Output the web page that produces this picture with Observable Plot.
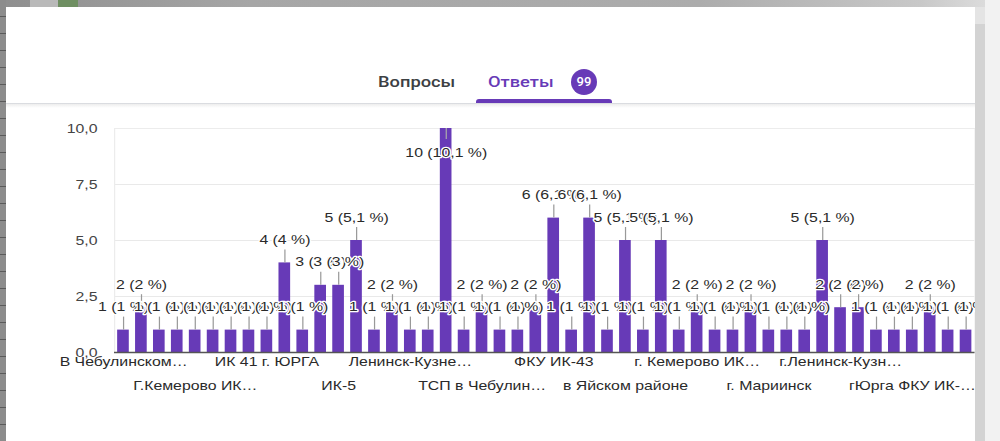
<!DOCTYPE html>
<html>
<head>
<meta charset="utf-8">
<script src="https://cdn.jsdelivr.net/npm/d3@7"></script>
<script src="https://cdn.jsdelivr.net/npm/@observablehq/plot@0.6"></script>
<style>
  html, body { margin: 0; padding: 0; width: 1000px; height: 441px; overflow: hidden; background: #fff; }
  body { position: relative; font-family: "Liberation Sans", Arial, sans-serif; }
  #topstrip { position: absolute; left: 0; top: 0; width: 1000px; height: 7px; z-index: 5;
    background: linear-gradient(to right, #8e8e8e 0%, #a6a6a6 25%, #acacac 70%, #c8c8c8 92%, #e0e0e0 100%); }
  #topbox1 { position: absolute; left: 30px; top: 0; width: 28px; height: 7px; background: #b9b9b9; z-index: 6; }
  #topbox2 { position: absolute; left: 58px; top: 0; width: 20px; height: 7px; background: #6f8f62; z-index: 6; }
  #leftstrip { position: absolute; left: 0; top: 0; width: 6px; height: 441px; z-index: 5;
    background: repeating-linear-gradient(to bottom, #8c8c8c 0px, #8c8c8c 16px, #5a5a5a 16px, #5a5a5a 17px); }
  #rightbar { position: absolute; left: 975px; top: 7px; width: 10px; height: 434px; background: #d3d3d3; z-index: 5; }
  #rightbarTop { position: absolute; left: 975px; top: 7px; width: 10px; height: 17px; background: #e4e4e4; z-index: 6; }
  #rightfar { position: absolute; left: 985px; top: 0; width: 15px; height: 441px; background: #f2f2f2; z-index: 5; }
  #divider { position: absolute; left: 6px; top: 103px; width: 969px; height: 1px; background: #dadce0; }
  #shadow { position: absolute; left: 6px; top: 104px; width: 969px; height: 4px;
    background: linear-gradient(to bottom, rgba(0,0,0,0.07), rgba(0,0,0,0)); }
  .tab { position: absolute; top: 72px; height: 20px; line-height: 20px; font-family: Roboto, "Noto Sans", sans-serif;
    font-weight: 500; font-size: 15px; white-space: nowrap; transform-origin: 0 50%; transform: scaleX(1.22); }
  #tabQ { left: 378px; color: #3c4043; }
  #tabA { left: 488px; color: #673ab7; }
  #badge { position: absolute; left: 571px; top: 69px; width: 26px; height: 26px; border-radius: 50%;
    background: #673ab7; color: #fff; font-family: Roboto, sans-serif; font-weight: 500; font-size: 13px;
    line-height: 26px; text-align: center; }
  #underline { position: absolute; left: 476px; top: 99px; width: 136px; height: 4px; background: #673ab7;
    border-radius: 3px 3px 0 0; }
  #chart { position: absolute; left: 0; top: 110px; transform-origin: 0 0; z-index: 1; }
</style>
</head>
<body>
<div id="topstrip"></div><div id="topbox1"></div><div id="topbox2"></div>
<div id="leftstrip"></div>
<div id="rightbar"></div><div id="rightbarTop"></div><div id="rightfar"></div>
<div id="tabQ" class="tab">Вопросы</div>
<div id="tabA" class="tab">Ответы</div>
<div id="badge"></div>
<div id="underline"></div>
<div id="divider"></div><div id="shadow"></div>
<div id="chart"></div>
<script>
// ---- data ----
const values = [1, 2, 1, 1, 1, 1, 1, 1, 1, 4, 1, 3, 3, 5, 1, 2,
                1, 1, 10, 1, 2, 1, 1, 2, 6, 1, 6, 1, 5, 1, 5, 1,
                2, 1, 1, 2, 1, 1, 1, 5, 2, 2, 1, 1, 1, 2, 1, 1];
const tickLabels = ["В Чебулинском…", "Г.Кемерово ИК…", "ИК 41 г. ЮРГА", "ИК-5",
                    "Ленинск-Кузне…", "ТСП в Чебулин…", "ФКУ ИК-43", "в Яйском районе",
                    "г. Кемерово ИК…", "г. Мариинск", "г.Ленинск-Кузн…", "гЮрга ФКУ ИК-…"];
const yTicks = [0, 2.5, 5, 7.5, 10];

// ---- derived ----
const total = d3.sum(values);
document.getElementById("badge").textContent = String(total);
const comma = (s) => s.replace(".", ",");
const pct = (v) => {
  const p = Math.round(v / total * 1000) / 10;
  return Number.isInteger(p) ? String(p) : comma(p.toFixed(1));
};
const data = values.map((v, i) => ({ i, value: v, label: `${v} (${pct(v)} %)` }));
const labelEvery = Math.round(values.length / tickLabels.length);
const ticks = tickLabels.map((t, k) => ({ i: k * labelEvery, label: t, row: k % 2 }));

// ---- layout (drawn compressed, then stretched horizontally like the screenshot) ----
const S = 1000 / 820;
const W = 820, H = 300, mt = 18, mb = 58;
const ml = 114 / S, mr = 25.5 / S;
const yMax = 10;
const pxPerUnit = (H - mt - mb) / yMax;
const aboveDy = -23, insideDy = 24;
const stemUnits = 13 / pxPerUnit;
const isInside = (d) => d.value + (-aboveDy + 6) / pxPerUnit > yMax;

const purple = "#673ab7";
const textColor = "#2a2a2a";

const chart = Plot.plot({
  width: W,
  height: H,
  marginLeft: ml,
  marginRight: mr,
  marginTop: mt,
  marginBottom: mb,
  style: { fontFamily: "'Liberation Sans', Arial, sans-serif", fontSize: "13px", color: "#444", background: "transparent" },
  x: { type: "band", domain: d3.range(values.length), paddingInner: 0.35, paddingOuter: 0.175, axis: null },
  y: { domain: [0, yMax], axis: null },
  marks: [
    Plot.gridY(yTicks, { stroke: "#e9e9e9", strokeOpacity: 1 }),
    Plot.frame({ stroke: "#ececec" }),
    Plot.axisY({ ticks: yTicks, tickSize: 0, tickPadding: 14, label: null,
                 tickFormat: (d) => comma(d.toFixed(1)), fill: "#444", fontSize: 13 }),
    Plot.barY(data, { x: "i", y: "value", fill: purple }),
    Plot.ruleY([0], { stroke: "#555", strokeWidth: 1.5 }),
    Plot.ruleX(data.filter((d) => !isInside(d)), { x: "i", y1: "value", y2: (d) => d.value + stemUnits, stroke: "#999", strokeWidth: 1 }),
    Plot.ruleX(data.filter(isInside), { x: "i", y1: "value", y2: (d) => d.value - stemUnits * 0.85, stroke: "#aaa", strokeWidth: 1 }),
    Plot.text(data.filter((d) => !isInside(d)), { x: "i", y: "value", text: "label", dy: aboveDy,
      fill: textColor, stroke: "white", strokeWidth: 2.5, fontSize: 13 }),
    Plot.text(data.filter(isInside), { x: "i", y: "value", text: "label", dy: insideDy,
      fill: textColor, stroke: "white", strokeWidth: 2.5, fontSize: 13 }),
    Plot.text(ticks.filter((t) => t.row === 0), { x: "i", text: "label", frameAnchor: "bottom", dy: 13,
      fill: textColor, fontSize: 13 }),
    Plot.text(ticks.filter((t) => t.row === 1), { x: "i", text: "label", frameAnchor: "bottom", dy: 37,
      fill: textColor, fontSize: 13 })
  ]
});
const host = document.getElementById("chart");
host.style.transform = `scaleX(${S})`;
host.appendChild(chart);
</script>
</body>
</html>
